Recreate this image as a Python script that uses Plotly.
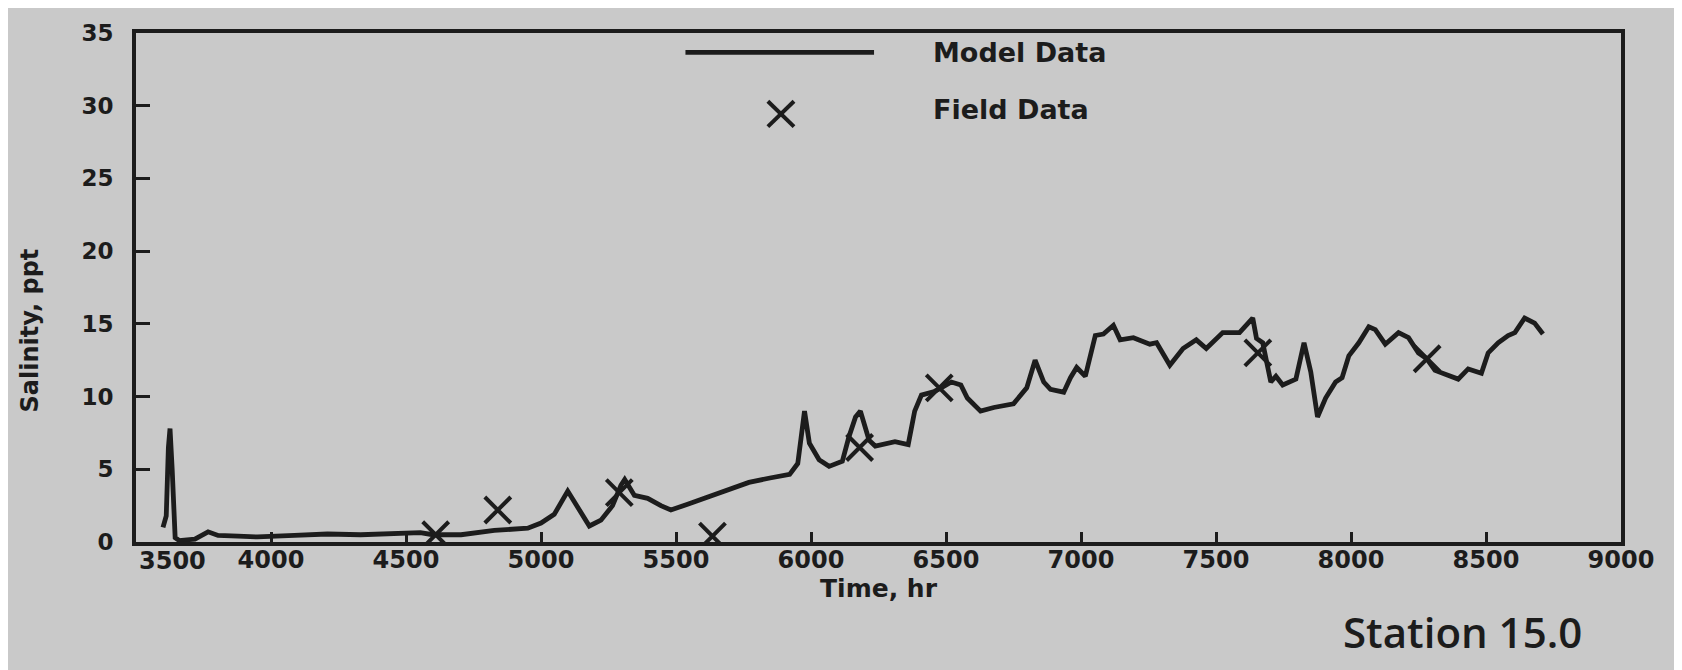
import plotly.graph_objects as go

# ---- data ----
model_time = [3600, 3612, 3620, 3626, 3634, 3645, 3660, 3718, 3767, 3804, 3878, 3950,
              4087, 4209, 4332, 4455, 4553, 4600, 4704, 4827, 4951, 5000, 5049, 5099,
              5148, 5179, 5222, 5265, 5296, 5310, 5346, 5395, 5444, 5481, 5543, 5605,
              5667, 5710, 5770, 5848, 5921, 5951, 5976, 5994, 6030, 6067, 6116, 6140,
              6165, 6183, 6200, 6215, 6238, 6311, 6360, 6384, 6409, 6457, 6482, 6520,
              6555, 6579, 6628, 6677, 6750, 6799, 6830, 6862, 6887, 6936, 6961, 6984,
              7016, 7053, 7083, 7120, 7145, 7194, 7255, 7280, 7329, 7378, 7427, 7464,
              7525, 7587, 7636, 7650, 7673, 7703, 7722, 7747, 7796, 7826, 7851, 7876,
              7906, 7943, 7967, 7992, 8029, 8066, 8090, 8127, 8176, 8213, 8250, 8281,
              8311, 8361, 8397, 8434, 8483, 8508, 8545, 8582, 8607, 8643, 8680, 8711]
model_salinity = [1.0, 1.8, 6.5, 7.8, 5.0, 0.3, 0.1, 0.2, 0.7, 0.45, 0.4, 0.35,
                  0.45, 0.55, 0.5, 0.55, 0.65, 0.5, 0.5, 0.8, 0.95, 1.3, 1.9, 3.5,
                  2.1, 1.1, 1.5, 2.5, 3.9, 4.3, 3.2, 3.0, 2.5, 2.2, 2.6, 3.0,
                  3.4, 3.7, 4.1, 4.4, 4.65, 5.4, 9.0, 6.8, 5.65, 5.2, 5.55, 7.2,
                  8.6, 9.0, 8.0, 7.0, 6.6, 6.9, 6.7, 9.0, 10.1, 10.35, 10.6, 11.0,
                  10.8, 9.9, 9.0, 9.25, 9.5, 10.6, 12.5, 11.0, 10.5, 10.3, 11.3, 12.0,
                  11.4, 14.2, 14.3, 14.9, 13.9, 14.05, 13.6, 13.7, 12.15, 13.3, 13.9, 13.3,
                  14.4, 14.4, 15.4, 14.0, 13.7, 11.0, 11.4, 10.8, 11.2, 13.7, 11.7, 8.6,
                  9.9, 11.0, 11.3, 12.8, 13.7, 14.8, 14.6, 13.6, 14.4, 14.05, 13.0, 12.6,
                  11.8, 11.4, 11.2, 11.9, 11.6, 13.0, 13.7, 14.2, 14.4, 15.4, 15.05, 14.3]

field_time = [4610, 4840, 5290, 5635, 6180, 6475, 7655, 8282]
field_salinity = [0.5, 2.2, 3.4, 0.4, 6.5, 10.6, 13.0, 12.6]

x_start = 3500
x_ticks = [4000, 4500, 5000, 5500, 6000, 6500, 7000, 7500, 8000, 8500, 9000]
y_ticks = [0, 5, 10, 15, 20, 25, 30, 35]

INK = "#1c1c1c"
BG = "#c9c9c9"
FONT = "DejaVu Sans"

fig = go.Figure()
fig.add_trace(go.Scatter(x=model_time, y=model_salinity, mode="lines",
                         name="Model Data", line=dict(color=INK, width=4.8),
                         showlegend=False))
fig.add_trace(go.Scatter(x=field_time, y=field_salinity, mode="markers",
                         name="Field Data",
                         marker=dict(symbol="x-thin", size=26,
                                     line=dict(color=INK, width=4)),
                         showlegend=False))

# hand-drawn style legend (paper coordinates)
fig.add_shape(type="line", xref="paper", yref="paper", x0=0.370, x1=0.497,
              y0=0.962, y1=0.962, line=dict(color=INK, width=4.8))
cx, cy, hx, hy = 0.4343, 0.841, 0.0088, 0.025
fig.add_shape(type="line", xref="paper", yref="paper", x0=cx - hx, x1=cx + hx,
              y0=cy - hy, y1=cy + hy, line=dict(color=INK, width=4))
fig.add_shape(type="line", xref="paper", yref="paper", x0=cx - hx, x1=cx + hx,
              y0=cy + hy, y1=cy - hy, line=dict(color=INK, width=4))
fig.add_annotation(text="<b>Model Data</b>", xref="paper", yref="paper",
                   x=0.5354, y=0.962, xanchor="left", yanchor="middle",
                   showarrow=False, font=dict(family=FONT, size=27, color=INK))
fig.add_annotation(text="<b>Field Data</b>", xref="paper", yref="paper",
                   x=0.5354, y=0.850, xanchor="left", yanchor="middle",
                   showarrow=False, font=dict(family=FONT, size=27, color=INK))
fig.add_annotation(text="Station 15.0", xref="paper", yref="paper",
                   x=0.893, y=-0.175, xanchor="center", yanchor="middle",
                   showarrow=False,
                   font=dict(family="Open Sans", size=42, color=INK, weight=600))
fig.add_annotation(text="<b>Salinity, ppt</b>", xref="paper", yref="paper",
                   x=-0.0714, y=0.4155, xanchor="center", yanchor="middle",
                   textangle=-90, showarrow=False,
                   font=dict(family=FONT, size=24, color=INK))
# first x label sits to the right of the corner, as in the reference
fig.add_annotation(text=f"<b>{x_start}</b>", xref="x", yref="paper",
                   x=x_start, y=0, xanchor="center", yanchor="top",
                   xshift=36, yshift=-3, showarrow=False,
                   font=dict(family=FONT, size=24, color=INK))

fig.update_layout(
    width=1682, height=670,
    paper_bgcolor=BG, plot_bgcolor=BG,
    margin=dict(l=128, r=69, t=19, b=136),
    font=dict(family=FONT, color=INK),
    showlegend=False,
)
fig.update_xaxes(range=[x_start, 9000], tickvals=x_ticks,
                 ticktext=[f"<b>{v}</b>" for v in x_ticks],
                 showgrid=False, zeroline=False,
                 showline=True, mirror=True, linecolor=INK, linewidth=4,
                 ticks="inside", ticklen=10, tickwidth=3, tickcolor=INK,
                 tickfont=dict(family=FONT, size=24, color=INK),
                 ticklabelstandoff=-7,
                 title=dict(text="<b>Time, hr</b>", standoff=4,
                            font=dict(family=FONT, size=25, color=INK)))
fig.update_yaxes(range=[0, 35], tickvals=y_ticks,
                 ticktext=[f"<b>{v}</b>" for v in y_ticks],
                 showgrid=False, zeroline=False,
                 showline=True, mirror=True, linecolor=INK, linewidth=4,
                 ticks="inside", ticklen=14, tickwidth=3, tickcolor=INK,
                 tickfont=dict(family=FONT, size=23, color=INK),
                 ticklabelstandoff=14)

fig.write_html("out.html")
